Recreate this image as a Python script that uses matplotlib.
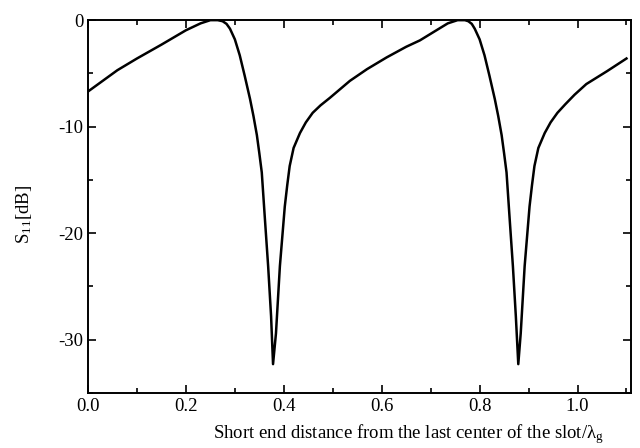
import numpy as np
import matplotlib
matplotlib.use('Agg')
import matplotlib.pyplot as plt
from matplotlib.ticker import MultipleLocator

plt.rcParams['font.family'] = ['Liberation Serif', 'DejaVu Serif']
plt.rcParams['mathtext.fontset'] = 'custom'
plt.rcParams['mathtext.rm'] = 'Liberation Serif'
plt.rcParams['mathtext.default'] = 'regular'
plt.rcParams['axes.unicode_minus'] = False

# distance / lambda_g  and  S11 in dB
dist = [0.0, 0.03, 0.06, 0.10, 0.15, 0.20, 0.23, 0.25, 0.265, 0.275, 0.283,
        0.29, 0.30, 0.31, 0.32, 0.331, 0.338, 0.345, 0.350, 0.355, 0.361,
        0.368, 0.374, 0.378, 0.384, 0.392, 0.402, 0.407, 0.412, 0.42,
        0.433, 0.445, 0.459, 0.475, 0.494, 0.535, 0.57, 0.61, 0.65,
        0.678, 0.71, 0.735, 0.755, 0.77, 0.777, 0.784,
        0.79, 0.80, 0.81, 0.82, 0.831, 0.838, 0.845, 0.850, 0.855, 0.861,
        0.868, 0.874, 0.879, 0.884, 0.892, 0.902, 0.907, 0.912, 0.92,
        0.933, 0.945, 0.959, 0.975, 0.994, 1.018, 1.06, 1.10]
s11 = [-6.7, -5.7, -4.7, -3.6, -2.3, -0.95, -0.3, 0.0, 0.0, -0.1, -0.35,
       -0.8, -1.8, -3.3, -5.2, -7.4, -9.0, -10.8, -12.5, -14.3, -18.4,
       -23.1, -27.8, -32.3, -29.4, -23.1, -17.5, -15.5, -13.7, -12.0,
       -10.6, -9.6, -8.7, -8.0, -7.3, -5.7, -4.6, -3.5, -2.5,
       -1.9, -1.0, -0.3, 0.0, 0.0, -0.1, -0.35,
       -0.8, -1.8, -3.3, -5.2, -7.4, -9.0, -10.8, -12.5, -14.3, -18.4,
       -23.1, -27.8, -32.3, -29.4, -23.1, -17.5, -15.5, -13.7, -12.0,
       -10.6, -9.6, -8.7, -7.9, -7.0, -6.0, -4.8, -3.6]

fig = plt.figure(figsize=(6.4, 4.48), dpi=100)
ax = fig.add_axes([0.1375, 0.123, 0.849, 0.832])

ax.plot(dist, s11, color='black', linewidth=1.8, solid_joinstyle='round')

ax.set_xlim(0, 1.11)
ax.set_ylim(-35, 0)
ax.xaxis.set_major_locator(MultipleLocator(0.2))
ax.xaxis.set_minor_locator(MultipleLocator(0.1))
ax.yaxis.set_major_locator(MultipleLocator(10))
ax.yaxis.set_minor_locator(MultipleLocator(5))
ax.tick_params(which='both', direction='in', top=True, right=True,
               labelsize=13.5, width=1.2)
ax.tick_params(which='major', length=6)
ax.tick_params(which='minor', length=3.5)
ax.xaxis.set_major_formatter(plt.FuncFormatter(lambda v, p: '%.1f' % v))
for s in ax.spines.values():
    s.set_linewidth(1.4)

ax.set_xlabel('Short end distance from the last center of the slot/$\\lambda_g$',
              fontsize=13.5)
ax.xaxis.set_label_coords(0.59, -0.078)
ax.set_ylabel('S$_{11}$[dB]', fontsize=13.5)
ax.yaxis.set_label_coords(-0.1, 0.48)

fig.savefig('out.png', dpi=100)
